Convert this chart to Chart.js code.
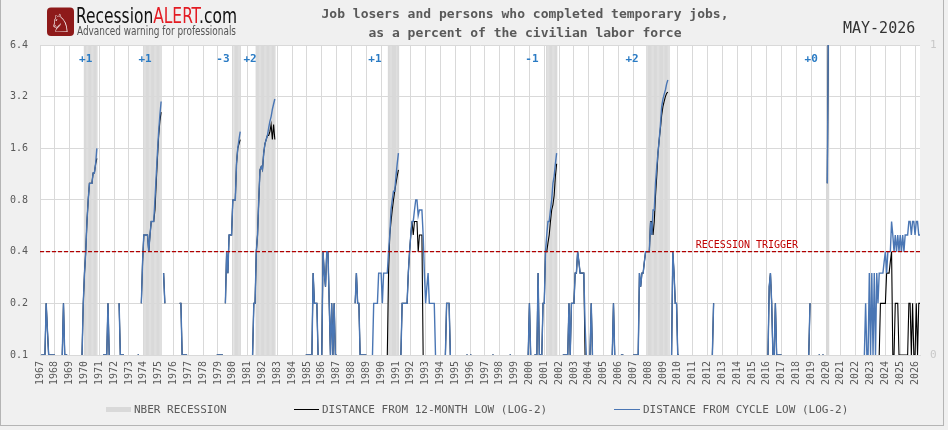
<!DOCTYPE html>
<html>
<head>
<meta charset="utf-8">
<script src="https://cdn.jsdelivr.net/npm/chart.js@4.4.1/dist/chart.umd.min.js"></script>
<style>
html,body{margin:0;padding:0;background:#f0f0f0;}
#wrap{position:relative;width:948px;height:430px;overflow:hidden;font-family:"DejaVu Sans Mono",monospace;color:#595959;}
#chart{position:absolute;left:0;top:0;}
#frame{position:absolute;left:0;top:-1px;width:944px;height:427px;border:1px solid #b4b4b4;box-sizing:border-box;pointer-events:none;}
#logo{position:absolute;left:0;top:0;}
.title{position:absolute;left:275px;top:4px;width:500px;text-align:center;font-weight:bold;font-size:13px;line-height:19px;color:#595959;}
.date{position:absolute;left:843px;top:18px;font-size:15px;line-height:20px;color:#333;}
.lg{position:absolute;font-size:11px;line-height:13px;top:403px;color:#595959;white-space:nowrap;}
.sw{position:absolute;}
</style>
</head>
<body>
<div id="wrap">
  <canvas id="chart" width="948" height="430"></canvas>
  <svg id="logo" width="260" height="42">
    <rect x="47" y="7.5" width="27" height="28.5" rx="4" fill="#8e1a1a"/>
    <text x="60.5" y="32" font-size="25" fill="#fff" text-anchor="middle" font-family="DejaVu Sans">♘</text>
    <text x="76" y="22.7" font-size="21" textLength="161" lengthAdjust="spacingAndGlyphs" font-family="DejaVu Sans Condensed, Liberation Sans Narrow, Liberation Sans, sans-serif" fill="#111">Recession<tspan fill="#e31b23">ALERT</tspan>.com</text>
    <text x="77" y="34.5" font-size="12" textLength="159" lengthAdjust="spacingAndGlyphs" font-family="Liberation Sans Narrow, DejaVu Sans Condensed, Liberation Sans, sans-serif" fill="#555">Advanced warning for professionals</text>
  </svg>
  <div class="title">Job losers and persons who completed temporary jobs,<br>as a percent of the civilian labor force</div>
  <div class="date">MAY-2026</div>
  <div class="sw" style="left:106px;top:407px;width:25px;height:5px;background:#d9d9d9"></div>
  <div class="lg" style="left:134px">NBER RECESSION</div>
  <div class="sw" style="left:294px;top:409px;width:25px;height:1px;background:#000"></div>
  <div class="lg" style="left:322px">DISTANCE FROM 12-MONTH LOW (LOG-2)</div>
  <div class="sw" style="left:614px;top:408.5px;width:26px;height:1.5px;background:#4a76b4"></div>
  <div class="lg" style="left:643px">DISTANCE FROM CYCLE LOW (LOG-2)</div>
  <div id="frame"></div>
</div>
<script>
// monthly series, first value = Jan 1967, 0 = no reading (cannot sit on a log axis)
const startYear = 1967;
const yTicks = [0.1, 0.2, 0.4, 0.8, 1.6, 3.2, 6.4];
const trigger = 0.4;

const cycleLow = [
  0,.1,.1,.1,.1,.2,.14,.1,.1,.1,.1,.1,          // 1967
  .1,0,0,0,0,0,.1,.2,.1,.1,.1,0,                // 1968
  0,0,0,0,0,0,0,0,0,0,.1,.2,                    // 1969
  .3,.4,.6,.8,1,1,1,1.15,1.15,1.3,1.6,0,        // 1970
  0,0,0,.1,.1,.1,.1,.2,.1,0,0,0,                // 1971
  0,0,0,0,.2,.1,.1,.1,.1,0,0,0,                 // 1972
  0,0,0,0,0,0,0,.1,.1,0,.2,.35,                 // 1973
  .5,.5,.5,.5,.4,.5,.6,.6,.6,.8,1.1,1.5,        // 1974
  2,2.5,3,0,.3,.2,0,0,0,0,0,0,                  // 1975
  0,0,0,0,0,.2,.2,.1,.1,.1,.1,.1,               // 1976
  0,0,0,0,0,0,0,0,0,0,0,0,                      // 1977
  0,0,0,0,0,0,0,0,0,0,0,.1,                     // 1978
  .1,.1,.1,.1,.1,0,.2,.4,.3,.5,.5,.5,           // 1979
  .8,.8,.8,1.3,1.6,1.8,2,0,0,0,0,0,             // 1980
  0,0,0,0,.1,.2,.2,.4,.5,.8,1.2,1.25,           // 1981
  1.2,1.5,1.7,1.8,1.9,2.1,2.3,2.45,2.7,2.9,3.1,0, // 1982
  0,0,0,0,0,0,0,0,0,0,0,0,                      // 1983
  0,0,0,0,0,0,0,0,0,0,0,.1,                     // 1984
  .1,.1,.1,.1,.1,.3,.2,.2,.2,.1,0,0,            // 1985
  .1,.4,.3,.25,.4,.4,.2,.1,.2,.1,.2,.1,         // 1986
  .1,0,0,0,0,0,0,0,0,0,0,0,                     // 1987
  0,0,0,.2,.3,.2,.2,.1,.1,.1,.1,.1,             // 1988
  .1,0,0,0,0,.1,.2,.2,.2,.2,.3,.3,              // 1989
  .3,.2,.3,.3,.3,.3,.4,.5,.7,.8,.9,.9,          // 1990
  1.1,1.3,1.5,0,.1,.2,.2,.2,.2,.2,.3,.4,        // 1991
  .5,.6,.6,.7,.8,.8,.65,.7,.7,.7,.5,.3,         // 1992
  .2,.25,.3,.2,.2,.2,.2,.2,.1,0,0,0,            // 1993
  0,0,0,0,.1,.2,.2,.2,.1,0,0,0,                 // 1994
  0,0,0,0,0,0,0,0,0,.1,.1,0,                    // 1995
  .1,.1,0,0,0,0,0,0,0,0,0,0,                    // 1996
  0,0,0,0,0,0,.1,.1,0,0,0,0,                    // 1997
  0,0,0,0,0,0,0,0,.1,.1,0,0,                    // 1998
  0,0,0,0,0,0,0,0,0,0,0,.1,                     // 1999
  .2,.1,0,0,.1,.1,.1,.3,.1,.1,.1,.2,            // 2000
  .2,.4,.5,.6,.6,.7,.8,1,1.1,1.3,1.5,0,         // 2001
  0,0,0,.1,.1,.1,.1,.1,.2,.1,.2,.2,             // 2002
  .2,.3,.3,.4,.35,.3,.3,.3,.3,.15,.1,0,         // 2003
  0,.1,.2,.1,0,0,0,0,0,0,0,0,                   // 2004
  0,0,0,0,0,0,0,.1,.2,.1,0,0,                   // 2005
  0,0,.1,.1,.1,0,0,0,0,0,0,0,                   // 2006
  .1,.1,.1,.1,.1,.3,.25,.3,.3,.35,.4,.4,        // 2007
  .4,.4,.6,.5,.7,.7,1,1.25,1.5,1.8,2.2,2.8,     // 2008
  3.1,3.3,3.5,3.8,4,0,0,.1,.4,.3,.2,.2,         // 2009
  .1,.1,0,0,0,0,0,0,0,0,0,0,                    // 2010
  0,0,0,0,0,0,0,0,0,0,0,0,                      // 2011
  0,0,0,0,.1,.2,0,0,0,0,0,0,                    // 2012
  0,0,0,0,0,0,0,0,0,0,0,0,                      // 2013
  0,0,0,0,0,0,0,0,0,0,0,0,                      // 2014
  0,0,0,0,0,0,0,0,0,0,0,0,                      // 2015
  0,.1,.25,.3,.2,.1,.1,.2,.1,.1,.1,.1,          // 2016
  .1,0,0,0,0,0,0,0,0,0,0,0,                     // 2017
  0,0,0,0,0,0,0,0,0,0,.1,.2,                    // 2018
  0,0,0,0,0,0,.1,.1,0,.1,.1,0,                  // 2019
  0,1,12,0,0,0,0,0,0,0,0,0,                     // 2020
  0,0,0,0,0,0,0,0,0,0,0,0,                      // 2021
  0,0,0,0,0,0,0,.1,.2,.1,.1,.3,                 // 2022
  .1,.3,.1,.3,.1,.3,.2,.3,.3,.3,.3,.35,         // 2023
  .4,.3,.4,.4,.4,.6,.5,.4,.5,.4,.5,.4,          // 2024
  .5,.4,.5,.4,.5,.5,.5,.6,.6,.5,.6,.6,          // 2025
  .5,.6,.6,.5,.5                                // 2026
];

const monthLow = [
  0,.1,.1,.1,.1,.2,.14,.1,.1,.1,.1,.1,          // 1967
  .1,0,0,0,0,0,.1,.2,.1,.1,.1,0,                // 1968
  0,0,0,0,0,0,0,0,0,0,.1,.2,                    // 1969
  .3,.4,.6,.8,1,1,1,1.15,1.15,1.3,1.4,0,        // 1970
  0,0,0,.1,.1,.1,.1,.2,.1,0,0,0,                // 1971
  0,0,0,0,.2,.1,.1,.1,.1,0,0,0,                 // 1972
  0,0,0,0,0,0,0,.1,.1,0,.2,.35,                 // 1973
  .5,.5,.5,.5,.4,.5,.6,.6,.6,.7,1,1.4,          // 1974
  1.9,2.3,2.6,0,.3,.2,0,0,0,0,0,0,              // 1975
  0,0,0,0,0,.2,.2,.1,.1,.1,.1,.1,               // 1976
  0,0,0,0,0,0,0,0,0,0,0,0,                      // 1977
  0,0,0,0,0,0,0,0,0,0,0,.1,                     // 1978
  .1,.1,.1,.1,.1,0,.2,.4,.3,.5,.5,.5,           // 1979
  .8,.8,.8,1.3,1.6,1.7,1.8,0,0,0,0,0,           // 1980
  0,0,0,0,.1,.2,.2,.4,.5,.8,1.2,1.25,           // 1981
  1.2,1.5,1.7,1.8,1.9,1.9,2,2.2,1.8,2.2,1.8,0,  // 1982
  0,0,0,0,0,0,0,0,0,0,0,0,                      // 1983
  0,0,0,0,0,0,0,0,0,0,0,.1,                     // 1984
  .1,.1,.1,.1,.1,.3,.2,.2,.2,.1,0,0,            // 1985
  .1,.4,.3,.25,.4,.4,.2,.1,.2,.1,.2,.1,         // 1986
  .1,0,0,0,0,0,0,0,0,0,0,0,                     // 1987
  0,0,0,.2,.3,.2,.2,.1,.1,.1,.1,.1,             // 1988
  .1,0,0,0,0,0,0,0,0,0,0,0,                     // 1989
  0,0,0,0,0,.1,.3,.5,.6,.7,.8,.9,               // 1990
  1,1.1,1.2,0,.1,.2,.2,.2,.2,.2,.3,.4,          // 1991
  .5,.6,.5,.6,.6,.6,.4,.5,.5,.5,.1,0,           // 1992
  0,0,0,0,0,0,0,0,0,0,0,0,                      // 1993
  0,0,0,0,.1,.2,.2,.2,.1,0,0,0,                 // 1994
  0,0,0,0,0,0,0,0,0,.1,.1,0,                    // 1995
  .1,.1,0,0,0,0,0,0,0,0,0,0,                    // 1996
  0,0,0,0,0,0,.1,.1,0,0,0,0,                    // 1997
  0,0,0,0,0,0,0,0,.1,.1,0,0,                    // 1998
  0,0,0,0,0,0,0,0,0,0,0,.1,                     // 1999
  .2,.1,0,0,.1,.1,.1,.3,.1,.1,.1,.2,            // 2000
  .2,.4,.4,.45,.5,.6,.7,.75,.85,1.1,1.3,0,      // 2001
  0,0,0,.1,.1,.1,.1,.1,.2,.1,.2,.2,             // 2002
  .2,.3,.3,.4,.35,.3,.3,.3,.3,.1,0,0,           // 2003
  0,.1,.2,.1,0,0,0,0,0,0,0,0,                   // 2004
  0,0,0,0,0,0,0,.1,.2,.1,0,0,                   // 2005
  0,0,.1,.1,.1,0,0,0,0,0,0,0,                   // 2006
  .1,.1,.1,.1,.1,.3,.25,.3,.3,.35,.4,.4,        // 2007
  .4,.4,.6,.6,.5,.6,.85,1.1,1.5,1.8,2.1,2.5,    // 2008
  2.8,3,3.2,3.35,3.4,0,0,.1,.4,.3,.2,.2,        // 2009
  .1,.1,0,0,0,0,0,0,0,0,0,0,                    // 2010
  0,0,0,0,0,0,0,0,0,0,0,0,                      // 2011
  0,0,0,0,.1,.2,0,0,0,0,0,0,                    // 2012
  0,0,0,0,0,0,0,0,0,0,0,0,                      // 2013
  0,0,0,0,0,0,0,0,0,0,0,0,                      // 2014
  0,0,0,0,0,0,0,0,0,0,0,0,                      // 2015
  0,.1,.25,.3,.2,.1,.1,.2,.1,.1,.1,.1,          // 2016
  .1,0,0,0,0,0,0,0,0,0,0,0,                     // 2017
  0,0,0,0,0,0,0,0,0,0,.1,.2,                    // 2018
  0,0,0,0,0,0,.1,.1,0,.1,.1,0,                  // 2019
  0,1,12,0,0,0,0,0,0,0,0,0,                     // 2020
  0,0,0,0,0,0,0,0,0,0,0,0,                      // 2021
  0,0,0,0,0,0,0,0,0,0,0,0,                      // 2022
  0,0,0,0,0,0,0,.1,.2,.2,.2,.2,                 // 2023
  .2,.3,.3,.3,.35,.4,.1,.1,.2,.2,.2,.1,         // 2024
  .1,.1,.1,.1,.1,.1,.1,.2,.2,.1,.2,.1,          // 2025
  .1,.2,.1,.2,.2                                // 2026
];

// NBER recessions as shaded in the chart
const nberStart = ['1970-01','1974-01','1980-02','1981-08','1990-07','2001-03','2007-12','2020-02'];
const nberEnd   = ['1970-11','1975-03','1980-07','1982-11','1991-03','2001-11','2009-06','2020-03'];

// lead/lag notes above each recession
const leadLabels = ['+1','+1','-3','+2','+1','-1','+2','+0'];
const leadMonths = ['1970-02','1974-02','1979-05','1981-03','1989-08','2000-03','2006-12','2019-01'];
const triggerLabel = 'RECESSION TRIGGER';
const triggerLabelMonth = '2014-09';

const monthIdx = s => (parseInt(s.slice(0,4)) - startYear)*12 + parseInt(s.slice(5,7)) - 1;
const toPts = arr => arr.map((v,i) => ({x:i, y: v > 0 ? v : null}));
const lastIdx = cycleLow.length - 1;

const nberPts = [];
nberStart.forEach((s,k) => {
  for(let i = monthIdx(s); i <= monthIdx(nberEnd[k]); i++) nberPts.push({x:i, y:1});
});

const FONT = '"DejaVu Sans Mono", monospace';
Chart.defaults.font.family = FONT;
Chart.defaults.color = '#595959';

const decorations = {
  id:'decorations',
  beforeDraw(chart){
    const {ctx, chartArea:a} = chart;
    ctx.save();
    ctx.fillStyle = '#fff';
    ctx.fillRect(a.left, a.top, a.right-a.left, a.bottom-a.top);
    ctx.restore();
  },
  afterDatasetsDraw(chart){
    const {ctx, chartArea:a, scales:{x, y}} = chart;
    ctx.save();
    ctx.textAlign = 'center';
    ctx.textBaseline = 'middle';
    ctx.font = 'bold 11px ' + FONT;
    ctx.fillStyle = '#2a7bc4';
    leadLabels.forEach((t,k) => ctx.fillText(t, x.getPixelForValue(monthIdx(leadMonths[k])), a.top + 14));
    ctx.font = '10px ' + FONT;
    ctx.fillStyle = '#c00000';
    ctx.textBaseline = 'bottom';
    ctx.fillText(triggerLabel, x.getPixelForValue(monthIdx(triggerLabelMonth)), y.getPixelForValue(trigger) - 1);
    ctx.restore();
  }
};

new Chart(document.getElementById('chart').getContext('2d'), {
  type:'line',
  data:{datasets:[
    {label:'trigger', data:[{x:0,y:trigger},{x:lastIdx,y:trigger}], borderColor:'#b00000', borderWidth:1.2, borderDash:[4,2], pointRadius:0, order:0, yAxisID:'y'},
    {label:'DISTANCE FROM CYCLE LOW (LOG-2)', data:toPts(cycleLow), borderColor:'#4a76b4', borderWidth:1.4, pointRadius:0, order:1, yAxisID:'y'},
    {label:'DISTANCE FROM 12-MONTH LOW (LOG-2)', data:toPts(monthLow), borderColor:'#000', borderWidth:1.1, pointRadius:0, order:2, yAxisID:'y'},
    {type:'bar', label:'NBER RECESSION', data:nberPts, backgroundColor:'#d9d9d9', borderWidth:0, barPercentage:1.15, categoryPercentage:1, order:3, yAxisID:'y2'}
  ]},
  options:{
    responsive:false,
    animation:false,
    spanGaps:false,
    layout:{padding:{top:45, bottom:35, left:0, right:0}},
    plugins:{legend:{display:false}, tooltip:{enabled:false}},
    scales:{
      x:{
        type:'linear', min:0, max:lastIdx, offset:false,
        grid:{color:'#d9d9d9', drawTicks:false, offset:false},
        border:{color:'#d9d9d9'},
        afterBuildTicks: s => { s.ticks = []; for(let v = 0; v <= lastIdx; v += 12) s.ticks.push({value:v}); },
        ticks:{autoSkip:false, minRotation:90, maxRotation:90, padding:6, font:{size:10}, color:'#595959',
          callback: v => v % 12 === 0 ? String(startYear + v/12) : null},
        afterFit: s => { s.height = 40; }
      },
      y:{
        type:'logarithmic', position:'left', min:0.1, max:6.4,
        afterBuildTicks: s => { s.ticks = yTicks.map(v => ({value:v})); },
        ticks:{padding:12, font:{size:10}, color:'#595959', callback: v => Number(v).toFixed(1)},
        grid:{color:'#d9d9d9', drawTicks:false},
        border:{color:'#d9d9d9'},
        afterFit: s => { s.width = 40; }
      },
      y2:{
        type:'linear', position:'right', min:0, max:1,
        ticks:{stepSize:1, padding:10, font:{size:11}, color:'#c8c8c8'},
        grid:{display:false, drawTicks:false},
        border:{display:false},
        afterFit: s => { s.width = 28; }
      }
    }
  },
  plugins:[decorations]
});
</script>
</body>
</html>
